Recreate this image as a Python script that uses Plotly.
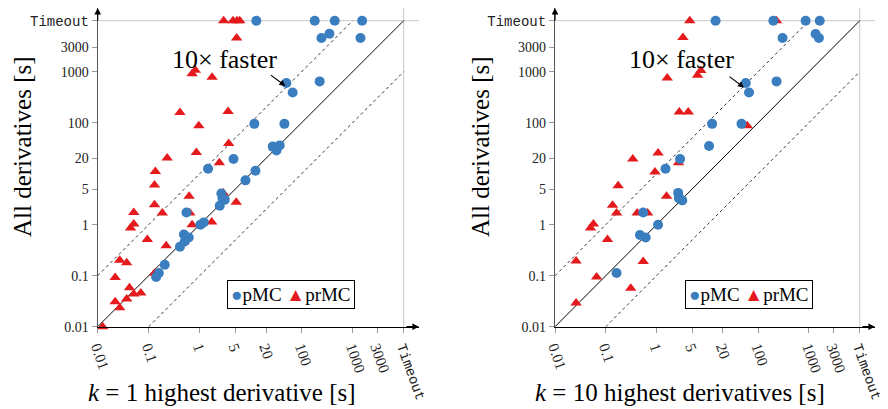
import plotly.graph_objects as go

T = 10000  # "Timeout"

tick_vals = [0.01, 0.1, 1, 5, 20, 100, 1000, 3000, 10000]
tick_text = ['0.01', '0.1', '1', '5', '20', '100', '1000', '3000', 'Timeout']

# reference lines (y = x, y = 10x, y = x/10)
diag_x = [0.01, 10000]
diag_y = [0.01, 10000]
fast_x = [0.01, 1000]
fast_y = [0.1, 10000]
slow_x = [0.1, 10000]
slow_y = [0.01, 1000]

# ---- k = 1 ----
k1_pmc_x = [12.9, 180, 444, 1530, 350, 244, 1420, 50, 66.5, 225, 11.8, 45.8, 27, 32, 37,
            4.6, 1.46, 12.4, 7.9, 2.66, 3.1, 2.8, 2.47, 0.55, 1.03, 1.2, 0.49, 0.61, 0.51,
            0.41, 0.206, 0.158, 0.14]
k1_pmc_y = [T, T, T, T, 5560, 4580, 4580, 600, 392, 646, 95, 95, 34, 28.6, 35.9,
            19.4, 12.5, 11.4, 7.4, 4.1, 3.1, 3.3, 2.36, 1.74, 1.0, 1.11, 0.64, 0.56, 0.47,
            0.37, 0.164, 0.113, 0.094]
k1_prmc_x = [2.95, 4.5, 5.4, 6.1, 5.3, 0.82, 0.71, 1.75, 0.41, 3.6, 0.96, 3.7, 0.23, 0.86,
             2.43, 0.135, 0.13, 0.13, 0.185, 0.051, 0.051, 0.044, 0.094, 0.22, 0.62, 0.64,
             0.71, 1.72, 2.9, 5.2, 0.027, 0.037, 0.022, 0.042, 0.051, 0.07, 0.037, 0.022,
             0.027, 0.0125, 0.13]
k1_prmc_y = [T, T, T, T, 4580, 1070, 910, 776, 159, 166, 87, 39, 20.3, 26,
             16.4, 11.1, 6.0, 2.46, 1.7, 1.74, 1.03, 0.86, 0.51, 0.385, 3.6, 1.7,
             1.0, 1.13, 4.2, 2.74, 0.2, 0.18, 0.092, 0.058, 0.044, 0.046, 0.035, 0.031,
             0.0235, 0.01, 0.112]

# ---- k = 10 ----
k10_pmc_x = [14.5, 199, 860, 1630, 1350, 1570, 302, 57, 66, 230, 12.4, 47, 10.8, 2.9, 1.5,
             2.66, 2.75, 3.2, 0.545, 1.07, 0.47, 0.61, 0.163]
k10_pmc_y = [T, T, T, T, 5500, 4580, 4580, 600, 392, 646, 95, 95, 35, 19.4, 12.5,
             4.2, 3.3, 3.0, 1.74, 1.0, 0.63, 0.56, 0.113]
k10_prmc_x = [4.5, 230, 3.3, 7.45, 6.4, 1.62, 2.8, 4.2, 61, 0.34, 1.07, 2.7, 0.93, 0.175,
              0.136, 0.163, 0.415, 0.665, 1.57, 0.057, 0.05, 0.108, 0.026, 0.545, 0.066,
              0.31, 0.026]
k10_prmc_y = [T, T, 4700, 1050, 850, 750, 162, 162, 87, 19.4, 25.6, 16.4, 10.8, 5.8,
              2.42, 1.7, 1.7, 1.7, 3.6, 1.03, 0.86, 0.51, 0.195, 0.19, 0.094, 0.057, 0.029]

BLUE = '#3a7ebf'
RED = '#e41a1c'
GRAY = '#c8c8c8'
FONT = 'Liberation Serif'

# page body has an 8px margin: figure drawn from (8, 8) in the window
OFF = 8
W, H = 880, 401
DEC = 51.0                       # pixels per decade
Y0_PX = 326.7                    # window y of 0.01
Y_TOP = -2 + (Y0_PX - OFF) / DEC  # log10 value at top of the figure
AX_MAX = 10 ** 4.3


def fx(px):
    return (px - OFF) / W


def fy(py):
    return 1 - (py - OFF) / H


fig = go.Figure()

panels = [
    ('x', 'y', k1_pmc_x, k1_pmc_y, k1_prmc_x, k1_prmc_y),
    ('x2', 'y2', k10_pmc_x, k10_pmc_y, k10_prmc_x, k10_prmc_y),
]

for xa, ya, px_, py_, rx_, ry_ in panels:
    # timeout guide lines
    fig.add_trace(go.Scatter(x=[0.01, AX_MAX], y=[T, T], mode='lines',
                             line=dict(color=GRAY, width=1), xaxis=xa, yaxis=ya,
                             hoverinfo='skip', showlegend=False))
    fig.add_trace(go.Scatter(x=[T, T], y=[0.01, AX_MAX], mode='lines',
                             line=dict(color=GRAY, width=1), xaxis=xa, yaxis=ya,
                             hoverinfo='skip', showlegend=False))
    fig.add_trace(go.Scatter(x=diag_x, y=diag_y, mode='lines',
                             line=dict(color='black', width=1), xaxis=xa, yaxis=ya,
                             hoverinfo='skip', showlegend=False))
    for lx, ly in ((fast_x, fast_y), (slow_x, slow_y)):
        fig.add_trace(go.Scatter(x=lx, y=ly, mode='lines',
                                 line=dict(color='#333', width=1, dash='dot'),
                                 xaxis=xa, yaxis=ya, hoverinfo='skip', showlegend=False))
    fig.add_trace(go.Scatter(x=rx_, y=ry_, mode='markers', name='prMC',
                             marker=dict(symbol='triangle-up', size=10, color=RED),
                             xaxis=xa, yaxis=ya, showlegend=False, cliponaxis=False))
    fig.add_trace(go.Scatter(x=px_, y=py_, mode='markers', name='pMC',
                             marker=dict(symbol='circle', size=10, color=BLUE),
                             xaxis=xa, yaxis=ya, showlegend=False, cliponaxis=False))

TO_SPAN = '<span style="font-family:Liberation Mono;font-size:14px">Timeout</span>'
ytext = [t if t != 'Timeout' else TO_SPAN for t in tick_text]
xtext = [t if t != 'Timeout' else TO_SPAN for t in tick_text]

xcommon = dict(type='log', range=[-2, 4.3], tickvals=tick_vals, ticktext=xtext,
               tickangle=70, tickfont=dict(family=FONT, size=15, color='#222'),
               showgrid=False, zeroline=False, showline=True, linecolor='black',
               linewidth=1.2, ticks='outside', ticklen=5, tickcolor='#999',
               automargin=False)
ycommon = dict(type='log', range=[-2, Y_TOP], tickvals=tick_vals, ticktext=ytext,
               tickfont=dict(family=FONT, size=14, color='#222'),
               showgrid=False, zeroline=False, showline=True, linecolor='#555',
               linewidth=1.2, ticks='outside', ticklen=5, tickcolor='#999',
               automargin=False)

ydom = [fy(Y0_PX), 1.0]
fig.update_layout(
    width=W, height=H, margin=dict(l=0, r=0, t=0, b=0, autoexpand=False),
    paper_bgcolor='white', plot_bgcolor='white', showlegend=False,
    xaxis=dict(domain=[fx(97.7), fx(419)], anchor='y', **xcommon),
    yaxis=dict(domain=ydom, anchor='x', **ycommon),
    xaxis2=dict(domain=[fx(555), fx(875)], anchor='y2', **xcommon),
    yaxis2=dict(domain=ydom, anchor='x2', **ycommon),
)

ann = []
for xr, yr in (('x', 'y'), ('x2', 'y2')):
    # axis arrowheads
    ann.append(dict(xref=f'{xr} domain', yref=f'{yr} domain', x=1, y=0, ax=-14, ay=0,
                    text='', showarrow=True, arrowhead=2, arrowsize=1.1, arrowwidth=1.2,
                    arrowcolor='black'))
    ann.append(dict(xref=f'{xr} domain', yref=f'{yr} domain', x=0, y=1, ax=0, ay=14,
                    text='', showarrow=True, arrowhead=2, arrowsize=1.1, arrowwidth=1.2,
                    arrowcolor='black'))

# "10x faster" labels (annotation positions on log axes are log10 values)
for xr, yr, hx, hy in (('x', 'y', 1.68, 2.72), ('x2', 'y2', 1.72, 2.69)):
    ann.append(dict(xref=xr, yref=yr, x=0.49, y=3.24, text='10× faster', showarrow=False,
                    xanchor='center', yanchor='middle',
                    font=dict(family=FONT, size=26, color='black')))
    ann.append(dict(xref=xr, yref=yr, x=hx, y=hy, ax=-16, ay=-12, text='',
                    showarrow=True, arrowhead=2, arrowsize=1, arrowwidth=1.2,
                    arrowcolor='black'))

# axis titles
for cx in (22, 480):
    ann.append(dict(xref='paper', yref='paper', x=fx(cx), y=fy(147), textangle=-90,
                    xanchor='center', yanchor='middle',
                    text='All derivatives [s]', showarrow=False,
                    font=dict(family=FONT, size=25, color='black')))
ann.append(dict(xref='paper', yref='paper', x=fx(222), y=fy(392),
                xanchor='center', yanchor='middle',
                text='<i>k</i> = 1 highest derivative [s]', showarrow=False,
                font=dict(family=FONT, size=25, color='black')))
ann.append(dict(xref='paper', yref='paper', x=fx(680), y=fy(392),
                xanchor='center', yanchor='middle',
                text='<i>k</i> = 10 highest derivatives [s]', showarrow=False,
                font=dict(family=FONT, size=25, color='black')))

# legend boxes
leg = (f'<span style="color:{BLUE}">●</span>pMC '
       f'<span style="color:{RED}">▲</span>prMC')
for cx in (291, 749):
    ann.append(dict(xref='paper', yref='paper', x=fx(cx), y=fy(294.5), text=leg,
                    xanchor='center', yanchor='middle',
                    showarrow=False, bordercolor='black', borderwidth=1, borderpad=3,
                    bgcolor='white', font=dict(family=FONT, size=19, color='black')))

fig.update_layout(annotations=ann)
fig.write_html('out.html')
